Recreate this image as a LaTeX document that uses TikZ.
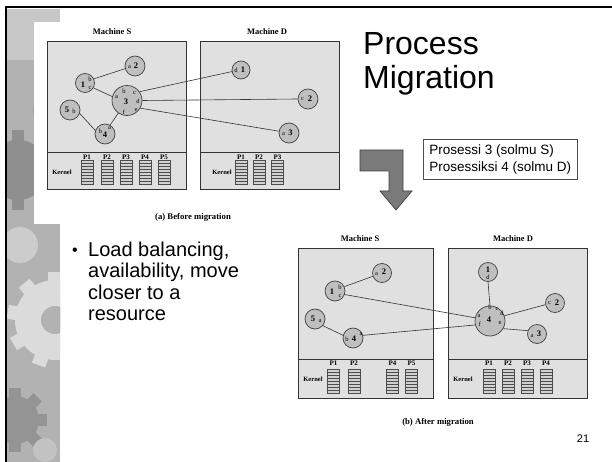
\documentclass[tikz,border=0pt]{standalone}
\usepackage{fontspec}
\setmainfont{Liberation Serif}
\newfontfamily\slidefont{Liberation Sans}
\begin{document}
\begin{tikzpicture}[x=1pt,y=-1pt,
  mbox/.style={draw=black!80, line width=0.9, fill=black!12, inner sep=0},
  proc/.style={circle, draw=black!75, line width=0.7, fill=black!25, minimum size=#1, inner sep=0},
  num/.style={font=\bfseries\fontsize{8.5}{9}\selectfont, inner sep=0},
  lt/.style={font=\fontsize{6.5}{6.5}\selectfont, inner sep=0},
  conn/.style={draw=black!80, line width=0.6},
  mlabel/.style={font=\bfseries\fontsize{8.5}{10}\selectfont, inner sep=0},
  plabel/.style={font=\bfseries\fontsize{7}{8}\selectfont, inner sep=0},
  klabel/.style={font=\bfseries\fontsize{6.5}{8}\selectfont, inner sep=0},
  figcaption/.style={font=\bfseries\fontsize{8.7}{10}\selectfont, inner sep=0},
  pstack/.pic={
    \draw[fill=black!18, draw=black!70, line width=0.5] (-6,0) rectangle (6,24);
    \foreach \k in {3,6,...,21} \draw[black!70, line width=0.4] (-6,\k) -- (6,\k);
  }]
\useasboundingbox (0,0) rectangle (612,462);
\fill[white] (0,0) rectangle (612,462);
% ---------- gear texture strip ----------
\begin{scope}
  \clip (7,9) rectangle (60,462);
  \fill[black!30] (7,9) rectangle (60,462);
  \fill[black!22] (7,9) rectangle (60,60);
  \foreach \a in {0,45,...,315}
    \fill[black!44, rotate around={\a:(18,170)}] (12,130) rectangle (24,170);
  \fill[black!44] (18,170) circle (30);
  \fill[black!38] (55,110) circle (22);
  \fill[black!20] (20,245) circle (18);
  \foreach \a in {0,40,...,320}
    \fill[black!14, rotate around={\a:(55,320)}] (48,272) rectangle (62,320);
  \fill[black!14] (55,320) circle (40);
  \fill[black!30] (55,320) circle (14);
  \foreach \a in {0,45,...,315}
    \fill[black!42, rotate around={\a:(15,420)}] (9,388) rectangle (21,420);
  \fill[black!42] (15,420) circle (24);
  \fill[black!24] (45,450) circle (12);
\end{scope}
\fill[white] (34,22) rectangle (372,224);
\draw[black, line width=2.5] (6,7) -- (6,462);
\draw[black, line width=2.8] (5,7) -- (612,7);
% ---------- (a) before migration ----------
\node[mlabel] (msa) at (112,32) {Machine S};
\node[mlabel] (mda) at (267,32) {Machine D};
\node[mbox, minimum width=139pt, minimum height=148pt] (boxSa) at (116.5,115) {};
\node[mbox, minimum width=139pt, minimum height=148pt] (boxDa) at (270,115) {};
\draw[black!80, line width=0.9] (boxSa.west |- 0,152) -- (boxSa.east |- 0,152);
\draw[black!80, line width=0.9] (boxDa.west |- 0,152) -- (boxDa.east |- 0,152);
\node[klabel] (kSa) at (62,172) {Kernel};
\node[klabel] (kDa) at (222,172) {Kernel};
\foreach \x/\t in {87/P1,107/P2,126/P3,145/P4,164/P5}{
  \node[plabel] at (\x,157) {\t};
  \pic at (\x,160) {pstack};
}
\foreach \x/\t in {241/P1,259/P2,277.5/P3}{
  \node[plabel] at (\x,157) {\t};
  \pic at (\x,160) {pstack};
}
% processes
\node[proc=19pt] (pa1) at (85,83) {};
\node[proc=20pt] (pa2) at (135,66) {};
\node[proc=30pt] (pa3) at (127,100.5) {};
\node[proc=20pt] (pa5) at (70,110) {};
\node[proc=20pt] (pa4) at (105,134) {};
\node[proc=18pt] (da1) at (241,70) {};
\node[proc=20pt] (da2) at (308,99) {};
\node[proc=20pt] (da3) at (289,133) {};
% connectors
\draw[conn] (pa1.25) -- (pa2.195);
\draw[conn] (pa1.-30) -- (pa3.165);
\draw[conn] (pa3.35) -- (da1.190);
\draw[conn] (pa3.0) -- (da2.180);
\draw[conn] (pa3.-30) -- (da3.170);
\draw[conn] (pa3.235) -- (pa4.60);
\draw[conn] (pa4.160) -- (pa5.-20);
% labels inside
\node[num] at (83,85) {1}; \node[lt] at (90,79) {b}; \node[lt] at (90,88) {c};
\node[lt] at (129.5,67) {a}; \node[num] at (136,66) {2};
\node[num] at (126,102) {3}; \node[lt] at (116.5,97.5) {a}; \node[lt] at (124,91) {b};
\node[lt] at (134.5,93) {c}; \node[lt] at (138,101) {d}; \node[lt] at (136,110) {e};
\node[lt] at (124,112.5) {f};
\node[num] at (67,110) {5}; \node[lt] at (74,111.5) {b};
\node[lt] at (100.5,131.5) {b}; \node[num] at (105,135) {4}; \node[lt] at (109.5,128) {a};
\node[lt] at (236,70) {d}; \node[num] at (243,69.5) {1};
\node[lt] at (302.5,99.5) {c}; \node[num] at (310,99) {2};
\node[lt] at (283.5,134) {a}; \node[num] at (290.5,132.5) {3};
\node[figcaption] (capa) at (193,217) {(a) Before migration};
% ---------- title ----------
\node[font=\slidefont\fontsize{32}{36}\selectfont, anchor=base west, inner sep=0] (t1) at (363,55) {Process};
\node[font=\slidefont\fontsize{32}{36}\selectfont, anchor=base west, inner sep=0] (t2) at (363,89) {Migration};
% ---------- arrow ----------
\draw[fill=black!52, draw=black!75, line width=0.7, line join=miter]
  (360,150) -- (403,150) -- (403,191) -- (412,191) -- (396,210) -- (380,191)
  -- (389,191) -- (389,171) -- (360,171) -- cycle;
\node[draw=black!70, line width=0.6, align=left, anchor=north west, inner xsep=6pt, inner ysep=5pt,
  font=\slidefont\fontsize{13.5}{17}\selectfont] (note) at (423,139)
  {Prosessi 3 (solmu S)\\Prosessiksi 4 (solmu D)};
% ---------- bullet ----------
\node[font=\slidefont\fontsize{16}{20}\selectfont, anchor=base west, inner sep=0] (bul) at (72,255) {•};
\foreach \y/\t [count=\i] in {256/{Load balancing,},277.5/{availability, move},299/{closer to a},320.5/{resource}}
  \node[font=\slidefont\fontsize{20}{22}\selectfont, anchor=base west, inner sep=0] (bl\i) at (88,\y) {\t};
% ---------- (b) after migration ----------
\node[mlabel] (msb) at (360,239) {Machine S};
\node[mlabel] (mdb) at (513,239) {Machine D};
\node[mbox, minimum width=135pt, minimum height=150pt] (boxSb) at (365.5,323) {};
\node[mbox, minimum width=139pt, minimum height=150pt] (boxDb) at (517.5,323) {};
\draw[black!80, line width=0.9] (boxSb.west |- 0,359) -- (boxSb.east |- 0,359);
\draw[black!80, line width=0.9] (boxDb.west |- 0,359) -- (boxDb.east |- 0,359);
\node[klabel] (kSb) at (313,379) {Kernel};
\node[klabel] (kDb) at (463,379) {Kernel};
\foreach \x/\t in {333.5/P1,354/P2,392.5/P4,411.5/P5}{
  \node[plabel] at (\x,363) {\t};
  \pic at (\x,369) {pstack};
}
\foreach \x/\t in {489/P1,508/P2,527/P3,546/P4}{
  \node[plabel] at (\x,363) {\t};
  \pic at (\x,369) {pstack};
}
\node[proc=19pt] (qb2) at (382,273) {};
\node[proc=20pt] (qb1) at (335,291) {};
\node[proc=20pt] (qb5) at (315,319) {};
\node[proc=20pt] (qb4) at (353,338) {};
\node[proc=19pt] (rb1) at (488,272) {};
\node[proc=30pt] (rb4) at (490,321) {};
\node[proc=19pt] (rb2) at (555,303) {};
\node[proc=19pt] (rb3) at (537,334) {};
\draw[conn] (qb1.25) -- (qb2.200);
\draw[conn] (qb1.-20) -- (rb4.168);
\draw[conn] (qb5.-40) -- (qb4.165);
\draw[conn] (qb4.15) -- (rb4.195);
\draw[conn] (rb1.south) -- (rb4.north);
\draw[conn] (rb4.20) -- (rb2.190);
\draw[conn] (rb4.-30) -- (rb3.160);
\node[lt] at (376.5,274) {a}; \node[num] at (384,272) {2};
\node[num] at (332,292) {1}; \node[lt] at (340,287) {b}; \node[lt] at (340,295.5) {c};
\node[num] at (313,319) {5}; \node[lt] at (320,321.5) {a};
\node[lt] at (347,339) {b}; \node[num] at (354,338.5) {4}; \node[lt] at (361,334) {a};
\node[num] at (488,269.5) {1}; \node[lt] at (488,277.5) {d};
\node[lt] at (490,307.5) {b}; \node[lt] at (497,309) {c}; \node[lt] at (502,313) {d};
\node[lt] at (479,316) {a}; \node[num] at (489,320) {4}; \node[lt] at (480,324) {f};
\node[lt] at (500,323) {e};
\node[lt] at (549.5,302.5) {c}; \node[num] at (557,302.5) {2};
\node[lt] at (532,336) {a}; \node[num] at (539,334) {3};
\node[figcaption] (capb) at (438,422) {(b) After migration};
\node[font=\slidefont\fontsize{11}{12}\selectfont, inner sep=0] (pg) at (583,439) {21};
\end{tikzpicture}
\end{document}
